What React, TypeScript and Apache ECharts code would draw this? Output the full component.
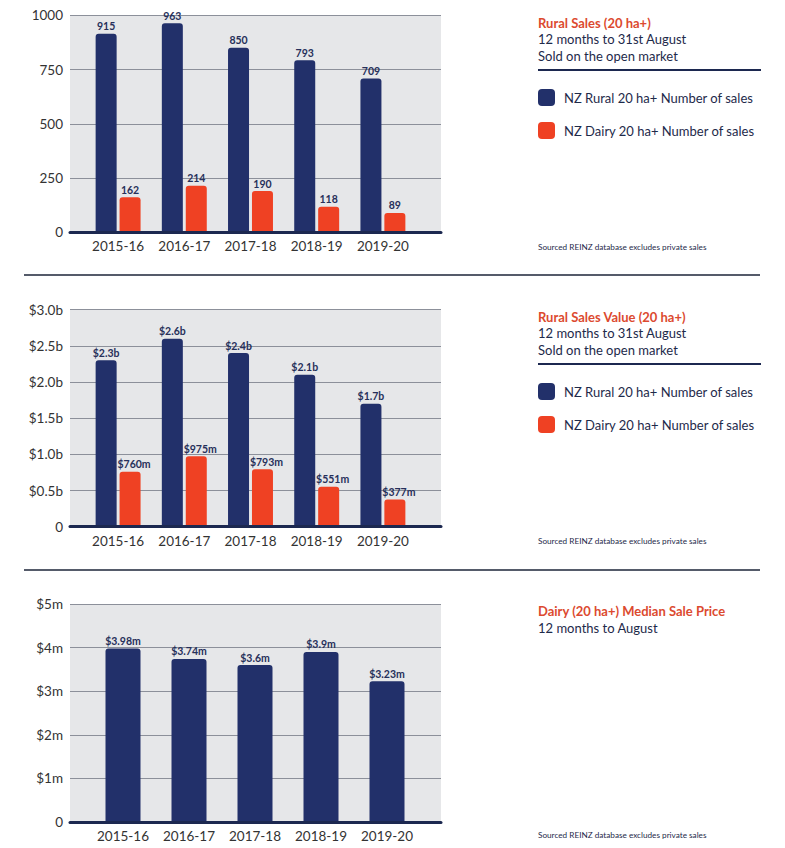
import React, { useEffect, useRef } from "react";
import * as echarts from "echarts";

const categories = ["2015-16", "2016-17", "2017-18", "2018-19", "2019-20"];

// Chart 1: number of sales
const ruralSales = [915, 963, 850, 793, 709];
const dairySales = [162, 214, 190, 118, 89];
const salesTicks = { min: 0, max: 1000, interval: 250 };

// Chart 2: sales value (billions)
const ruralValue = [2.3, 2.6, 2.4, 2.1, 1.7];
const dairyValue = [0.76, 0.975, 0.793, 0.551, 0.377];
const ruralValueLabels = ["$2.3b", "$2.6b", "$2.4b", "$2.1b", "$1.7b"];
const dairyValueLabels = ["$760m", "$975m", "$793m", "$551m", "$377m"];
const valueTicks = { min: 0, max: 3, interval: 0.5 };

// Chart 3: dairy median sale price (millions)
const dairyMedian = [3.98, 3.74, 3.6, 3.9, 3.23];
const dairyMedianLabels = ["$3.98m", "$3.74m", "$3.6m", "$3.9m", "$3.23m"];
const medianTicks = { min: 0, max: 5, interval: 1 };

const NAVY = "#22306a";
const ORANGE = "#ef4123";
const TITLE = "#dc4a2f";
const TEXT = "#1e2a4a";
const FONT = "Lato, 'Open Sans', sans-serif";

export default function App() {
  const ref = useRef<HTMLDivElement>(null);
  useEffect(() => {
    const chart = echarts.init(ref.current!, null, { renderer: "svg" });

    const grids: any[] = [];
    const xAxes: any[] = [];
    const yAxes: any[] = [];
    const series: any[] = [];

    function addChart(
      top: number,
      height: number,
      barLeft: number,
      barWidthGrid: number,
      ticks: { min: number; max: number; interval: number },
      fmt: (v: number) => string,
      bars: { data: number[]; color: string; labels?: string[]; offset?: number }[],
      barWidth: number
    ) {
      const bgIdx = grids.length;
      grids.push({
        left: 70,
        top,
        width: 371,
        height,
        show: true,
        backgroundColor: "#e6e7e9",
        borderWidth: 0,
      });
      xAxes.push({
        gridIndex: bgIdx,
        type: "category",
        data: categories,
        axisLabel: { show: false },
        axisTick: { show: false },
        axisLine: { show: true, lineStyle: { color: "#1c2850", width: 3 } },
        z: 5,
      });
      yAxes.push({
        gridIndex: bgIdx,
        type: "value",
        min: ticks.min,
        max: ticks.max,
        interval: ticks.interval,
        axisLine: { show: false },
        axisTick: { show: false },
        splitLine: { show: true, lineStyle: { color: "#8c909a", width: 1 } },
        axisLabel: {
          formatter: fmt,
          color: "#333",
          fontSize: 13.5,
          fontFamily: FONT,
          margin: 7,
        },
      });
      const barIdx = grids.length;
      grids.push({ left: barLeft, top, width: barWidthGrid, height });
      xAxes.push({
        gridIndex: barIdx,
        type: "category",
        data: categories,
        axisLine: { show: false },
        axisTick: { show: false },
        axisLabel: {
          interval: 0,
          color: "#333",
          fontSize: 13.5,
          fontFamily: FONT,
          margin: 7,
        },
      });
      yAxes.push({
        gridIndex: barIdx,
        type: "value",
        min: ticks.min,
        max: ticks.max,
        interval: ticks.interval,
        show: false,
        splitLine: { show: false },
      });
      bars.forEach((b, i) => {
        series.push({
          type: "bar",
          xAxisIndex: barIdx,
          yAxisIndex: barIdx,
          data: b.data,
          barWidth,
          barGap: "14%",
          itemStyle: { color: b.color, borderRadius: [3, 3, 1, 1] },
          label: {
            show: true,
            position: "top",
            distance: 2,
            offset: [b.offset || 0, 0],
            color: "#26305a",
            fontWeight: "bold",
            fontSize: 10.5,
            fontFamily: FONT,
            formatter: (p: any) => (b.labels ? b.labels[p.dataIndex] : String(p.value)),
          },
          z: 3 + i,
        });
      });
    }

    addChart(
      15.3,
      217,
      85,
      331,
      salesTicks,
      (v) => String(v),
      [
        { data: ruralSales, color: NAVY },
        { data: dairySales, color: ORANGE },
      ],
      21
    );
    addChart(
      309.7,
      217,
      85,
      331,
      valueTicks,
      (v) => (v === 0 ? "0" : "$" + v.toFixed(1) + "b"),
      [
        { data: ruralValue, color: NAVY, labels: ruralValueLabels },
        { data: dairyValue, color: ORANGE, labels: dairyValueLabels, offset: 4 },
      ],
      21
    );
    addChart(
      604,
      218,
      90,
      330,
      medianTicks,
      (v) => (v === 0 ? "0" : "$" + v + "m"),
      [{ data: dairyMedian, color: NAVY, labels: dairyMedianLabels }],
      35
    );

    const txt = (
      text: string,
      x: number,
      y: number,
      size: number,
      color: string,
      weight: string = "normal"
    ) => ({
      type: "text",
      x,
      y,
      style: {
        text,
        fontSize: size,
        fontFamily: FONT,
        fontWeight: weight,
        fill: color,
        verticalAlign: "middle",
        align: "left",
      },
    });

    const panel = (
      y0: number,
      title: string,
      subs: string[],
      withLegend: boolean,
      sourceY: number
    ) => {
      const els: any[] = [];
      els.push(txt(title, 538, y0, 13, TITLE, "bold"));
      subs.forEach((s, i) => els.push(txt(s, 538, y0 + 16.5 * (i + 1), 13, TEXT)));
      if (withLegend) {
        els.push({
          type: "line",
          shape: { x1: 538, y1: y0 + 47.5, x2: 761, y2: y0 + 47.5 },
          style: { stroke: "#1c2850", lineWidth: 2 },
        });
        const items = [
          { c: NAVY, t: "NZ Rural 20 ha+ Number of sales" },
          { c: ORANGE, t: "NZ Dairy 20 ha+ Number of sales" },
        ];
        items.forEach((it, i) => {
          const cy = y0 + 75 + i * 33;
          els.push({
            type: "rect",
            shape: { x: 538, y: cy - 8.5, width: 17, height: 17, r: 4 },
            style: { fill: it.c },
          });
          els.push(txt(it.t, 564, cy, 13, TEXT));
        });
      }
      els.push(
        txt("Sourced REINZ database excludes private sales", 538, sourceY, 8.2, TEXT)
      );
      return els;
    };

    const graphics: any[] = [
      ...panel(22.5, "Rural Sales (20 ha+)", ["12 months to 31st August", "Sold on the open market"], true, 246.5),
      ...panel(316.5, "Rural Sales Value (20 ha+)", ["12 months to 31st August", "Sold on the open market"], true, 541),
      ...panel(611, "Dairy (20 ha+) Median Sale Price", ["12 months to August"], false, 835),
      {
        type: "line",
        shape: { x1: 24, y1: 275, x2: 760, y2: 275 },
        style: { stroke: "#1d2538", lineWidth: 1.5 },
      },
      {
        type: "line",
        shape: { x1: 24, y1: 570, x2: 760, y2: 570 },
        style: { stroke: "#1d2538", lineWidth: 1.5 },
      },
    ];

    chart.setOption({
      animation: false,
      backgroundColor: "#ffffff",
      grid: grids,
      xAxis: xAxes,
      yAxis: yAxes,
      series,
      graphic: graphics,
    });
    return () => chart.dispose();
  }, []);
  return (
    <div
      ref={ref}
      style={{ position: "absolute", left: 0, top: 0, width: 785, height: 848 }}
    />
  );
}
